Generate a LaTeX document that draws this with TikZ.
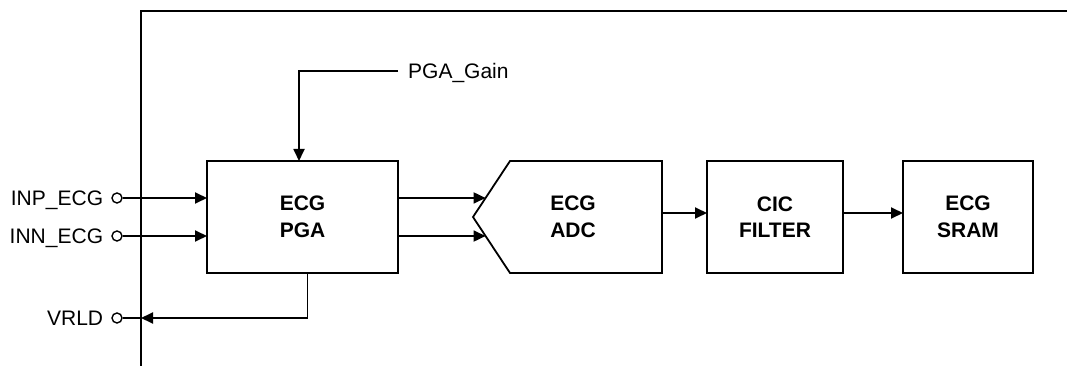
\documentclass[tikz,border=0pt]{standalone}
\usepackage{fontspec}
\setmainfont{Liberation Sans}
\usetikzlibrary{arrows.meta,positioning,calc}
\tikzset{
  wire/.style={line width=1.8pt},
  arr/.style={wire, -{Triangle[length=12pt,width=11pt]}},
  blk/.style={draw, line width=1.8pt, minimum width=#1, minimum height=112pt,
    inner sep=0pt, outer sep=0pt, align=center,
    font=\bfseries\fontsize{21}{26.5}\selectfont},
  blk/.default=136pt,
  pin/.style={draw, circle, fill=white, line width=1.4pt, minimum size=10pt, inner sep=0pt},
  lbl/.style={inner sep=0pt, text height=15pt, text depth=0pt,
    font=\fontsize{21}{24}\selectfont}
}
\def\ecgpin(#1,#2,#3){
  \node[pin] (#1) at (117,#2) {};
  \node[lbl, left=8pt of #1] (#1_lbl) {#3};
}

\begin{document}
\begin{tikzpicture}[x=1pt,y=-1pt]
\useasboundingbox (0,0) rectangle (1067,366);
% chip outline
\coordinate (frame_bl) at (141,366);
\coordinate (frame_tl) at (141,11);
\coordinate (frame_tr) at (1067,11);
\draw[wire] (frame_bl) -- (frame_tl) -- (frame_tr);
% blocks
\node[blk=191pt] (pga) at (302.5,217) {ECG\\PGA};
\coordinate (adc_tip) at (473,217);
\coordinate (adc_nw) at (510,161);
\coordinate (adc_ne) at (662,161);
\coordinate (adc_se) at (662,273);
\coordinate (adc_sw) at (510,273);
\draw[wire, line join=miter] (adc_tip) -- (adc_nw) -- (adc_ne) -- (adc_se) -- (adc_sw) -- cycle;
\node[align=center, font=\bfseries\fontsize{21}{26.5}\selectfont] (adc) at (573,217) {ECG\\ADC};
\node[blk=136pt] (cic) at (775,217) {CIC\\FILTER};
\node[blk=130pt] (sram) at (968,217) {ECG\\SRAM};
% pins
\ecgpin(inp,198,INP\_ECG)
\ecgpin(inn,236,INN\_ECG)
\ecgpin(vrld,318,VRLD)
\coordinate (vrld_end) at (frame_bl |- vrld);
% signals
\draw[arr] (inp) -- (inp -| pga.west);
\draw[arr] (inn) -- (inn -| pga.west);
\draw[arr] (inp -| pga.east) -- ($(adc_tip)!0.34!(adc_nw)$);
\draw[arr] (inn -| pga.east) -- ($(adc_tip)!0.34!(adc_sw)$);
\coordinate (adc_out) at (662,213);
\draw[arr] (adc_out) -- (adc_out -| cic.west);
\draw[arr] (cic.east |- adc_out) -- (sram.west |- adc_out);
\draw[arr] ([xshift=5pt]pga.south) |- (vrld_end);
\draw[wire] (vrld) -- (vrld_end);
\node[lbl, anchor=west] (gain) at (408,71) {PGA\_Gain};
\draw[arr] ([xshift=-10pt]gain.west) -| ([xshift=-3.5pt]pga.north);
\end{tikzpicture}
\end{document}
